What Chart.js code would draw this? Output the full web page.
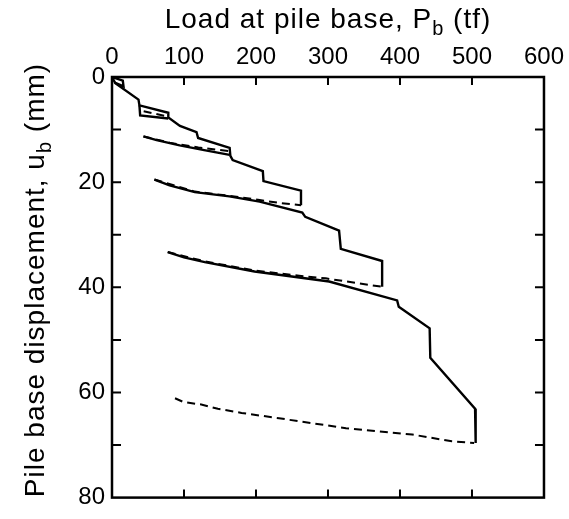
<!DOCTYPE html>
<html>
<head>
<meta charset="utf-8">
<script src="https://cdn.jsdelivr.net/npm/chart.js@4.4.1/dist/chart.umd.min.js"></script>
<style>
  html, body { margin: 0; padding: 0; background: #fff; }
  #c { display: block; }
</style>
</head>
<body>
<canvas id="c" width="569" height="519"></canvas>
<script>
// ---- Data (load in tf, displacement in mm) ----
const loadTicks = [0, 100, 200, 300, 400, 500, 600];
const dispTicks = [0, 20, 40, 60, 80];

// measured (solid) curves
const solidOriginLoad = [0, 15, 16, 3];
const solidOriginDisp = [0, 0.7, 1.8, 1.0];

const solidALoad = [0, 4.6, 36.8, 38.1, 78.2, 78.2, 94.4, 117.4, 119.6, 163.4, 164.4, 167.6, 209.5, 210.4, 262.5, 262.5];
const solidADisp = [0, 1.2, 4.3, 5.4, 6.8, 7.7, 9.3, 10.5, 11.6, 13.5, 15.0, 15.8, 17.9, 19.8, 21.6, 24.4];

const solidBLoad = [38.1, 39.1, 78.2];
const solidBDisp = [5.4, 7.3, 7.9];

const solidCLoad = [43.7, 62, 94, 128, 163.4];
const solidCDisp = [11.3, 12.0, 13.0, 13.9, 14.8];

const solidDLoad = [58.9, 80, 115, 163, 205, 264.3, 268.4, 315.4, 317.8, 375.2, 375.2];
const solidDDisp = [19.5, 20.6, 21.9, 22.7, 23.7, 25.8, 26.6, 29.2, 32.7, 35.0, 39.9];

const solidELoad = [77.4, 100, 128.9, 198, 301.6, 396, 398.3, 441.2, 442.1, 504.3, 505.1];
const solidEDisp = [33.3, 34.3, 35.2, 37.0, 38.9, 42.5, 43.7, 47.8, 53.4, 63.1, 69.6];

// computed (dashed) curves
const dashBLoad = [44, 60, 76];
const dashBDisp = [6.5, 7.0, 7.5];

const dashCLoad = [43.7, 80, 120, 163.4];
const dashCDisp = [11.3, 12.5, 13.4, 14.1];

const dashDLoad = [58.9, 115, 163, 205, 230, 262.5];
const dashDDisp = [19.5, 21.8, 22.6, 23.4, 23.9, 24.4];

const dashELoad = [77.4, 130, 198, 260, 297, 340, 375.2];
const dashEDisp = [33.3, 35.1, 36.8, 37.8, 38.3, 39.2, 39.9];

const dashFLoad = [87.5, 99, 124, 147, 180, 232, 246, 325, 417, 472, 503];
const dashFDisp = [61.1, 61.8, 62.3, 63.1, 63.9, 64.9, 65.2, 66.8, 68.0, 69.3, 69.6];

function pts(xs, ys) { return xs.map((x, i) => ({ x: x, y: ys[i] })); }

const FONT = '"Liberation Sans", Arial, Helvetica, sans-serif';

function solid(xs, ys) {
  return { data: pts(xs, ys), borderColor: '#000', borderWidth: 2.4, pointRadius: 0, fill: false, tension: 0 };
}
function dashed(xs, ys) {
  return { data: pts(xs, ys), borderColor: '#000', borderWidth: 2.0, borderDash: [8, 5], pointRadius: 0, fill: false, tension: 0 };
}

const framePlugin = {
  id: 'frame',
  afterDraw(chart) {
    const ctx = chart.ctx;
    const xs = chart.scales.x, ys = chart.scales.y;
    const a = chart.chartArea;
    ctx.save();
    ctx.strokeStyle = '#000';
    ctx.lineWidth = 2.5;
    ctx.strokeRect(a.left, a.top, a.right - a.left, a.bottom - a.top);
    ctx.lineWidth = 2;
    ctx.beginPath();
    for (let v = 100; v < 600; v += 100) {
      const px = xs.getPixelForValue(v);
      ctx.moveTo(px, a.top); ctx.lineTo(px, a.top + 8);
      ctx.moveTo(px, a.bottom); ctx.lineTo(px, a.bottom - 8);
    }
    for (let v = 10; v < 80; v += 10) {
      const py = ys.getPixelForValue(v);
      ctx.moveTo(a.left, py); ctx.lineTo(a.left + 9, py);
      ctx.moveTo(a.right, py); ctx.lineTo(a.right - 9, py);
    }
    ctx.stroke();

    // axis titles with subscripts
    ctx.fillStyle = '#000';
    ctx.textBaseline = 'alphabetic';
    const big = '28px ' + FONT, small = '20px ' + FONT;
    try { ctx.letterSpacing = '1px'; } catch (e) {}
    function drawSub(parts, cx, cy) {
      let w = 0;
      parts.forEach(p => { ctx.font = p.sub ? small : big; w += ctx.measureText(p.t).width; });
      let x = cx - w / 2;
      parts.forEach(p => {
        ctx.font = p.sub ? small : big;
        ctx.fillText(p.t, x, cy + (p.sub ? 7 : 0));
        x += ctx.measureText(p.t).width;
      });
    }
    drawSub([{ t: 'Load at pile base, P' }, { t: 'b', sub: true }, { t: ' (tf)' }], (a.left + a.right) / 2, 28);
    ctx.save();
    ctx.translate(44, 280);
    ctx.rotate(-Math.PI / 2);
    drawSub([{ t: 'Pile base displacement, u' }, { t: 'b', sub: true }, { t: ' (mm)' }], 0, 0);
    ctx.restore();
    ctx.restore();
  }
};

new Chart(document.getElementById('c'), {
  type: 'line',
  data: {
    datasets: [
      solid(solidOriginLoad, solidOriginDisp),
      solid(solidALoad, solidADisp),
      solid(solidBLoad, solidBDisp),
      solid(solidCLoad, solidCDisp),
      solid(solidDLoad, solidDDisp),
      solid(solidELoad, solidEDisp),
      dashed(dashBLoad, dashBDisp),
      dashed(dashCLoad, dashCDisp),
      dashed(dashDLoad, dashDDisp),
      dashed(dashELoad, dashEDisp),
      dashed(dashFLoad, dashFDisp)
    ]
  },
  options: {
    responsive: false,
    animation: false,
    layout: { padding: { left: 0, top: 0, right: 23, bottom: 11 } },
    plugins: { legend: { display: false }, tooltip: { enabled: false } },
    scales: {
      x: {
        type: 'linear', position: 'top', min: 0, max: 600,
        afterBuildTicks(s) { s.ticks = loadTicks.map(v => ({ value: v })); },
        afterFit(s) { s.height = 77; },
        grid: { display: false, drawTicks: false },
        border: { display: false },
        ticks: { color: '#000', font: { family: FONT, size: 24 }, padding: 5, maxRotation: 0, autoSkip: false }
      },
      y: {
        type: 'linear', reverse: true, min: 0, max: 80,
        afterBuildTicks(s) { s.ticks = dispTicks.map(v => ({ value: v })); },
        afterFit(s) { s.width = 112; },
        grid: { display: false, drawTicks: false },
        border: { display: false },
        ticks: { color: '#000', font: { family: FONT, size: 24 }, padding: 7, autoSkip: false }
      }
    }
  },
  plugins: [framePlugin]
});
</script>
</body>
</html>
